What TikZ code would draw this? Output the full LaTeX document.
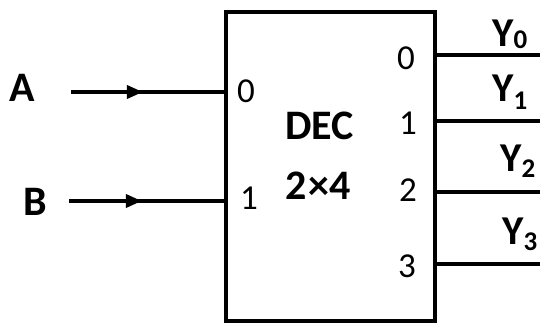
\documentclass[tikz,border=0pt]{standalone}
\usepackage{fontspec}
\setmainfont{Carlito}
\usetikzlibrary{arrows.meta,decorations.markings}
\begin{document}
\begin{tikzpicture}[x=1pt,y=1pt,
  wire/.style={line width=3.6pt},
  inwire/.style={wire,decoration={markings,mark=at position 0.47 with {\arrow{Triangle[length=16pt,width=13pt]}}},postaction={decorate}},
  lbl/.style={font=\fontsize{42}{46}\selectfont\bfseries,inner sep=0pt,anchor=base west},
  pin/.style={font=\fontsize{35}{40}\selectfont,inner sep=0pt,anchor=base west},
  ylbl/.style={font=\fontsize{41}{44}\selectfont\bfseries,inner sep=0pt,anchor=base west}]
\useasboundingbox (0,0) rectangle (540,329);
% decoder box
\node[draw,line width=3.6pt,minimum width=209pt,minimum height=309pt,inner sep=0pt,anchor=south west] (dec) at (224,6) {};
\node[lbl] (t1) at (285,189) {DEC};
\node[lbl] (t2) at (285,129) {2\kern2pt×4};
% inputs
\node[lbl] (A) at (9,227) {A};
\node[lbl] (B) at (23,113) {B};
\coordinate (a0) at (71,237);
\coordinate (b0) at (69,128);
\coordinate (i0) at (224,237);
\coordinate (i1) at (224,128);
\draw[inwire] (a0) -- (i0);
\draw[inwire] (b0) -- (i1);
\node[pin] (p0) at (237,226) {0};
\node[pin] (p1) at (240,119) {1};
% outputs
\node[pin] (q0) at (397,259) {0};
\node[pin] (q1) at (399,194) {1};
\node[pin] (q2) at (399,127) {2};
\node[pin] (q3) at (398,51) {3};
\coordinate (o0) at (433,274);
\coordinate (o1) at (433,208);
\coordinate (o2) at (433,137);
\coordinate (o3) at (433,65);
\coordinate (e0) at (540,274);
\coordinate (e1) at (540,208);
\coordinate (e2) at (540,137);
\coordinate (e3) at (540,65);
\draw[wire] (o0) -- (e0);
\draw[wire] (o1) -- (e1);
\draw[wire] (o2) -- (e2);
\draw[wire] (o3) -- (e3);
\node[ylbl] (y0) at (492,282) {Y\raisebox{-2pt}{\fontsize{27}{30}\selectfont 0}};
\node[ylbl] (y1) at (492,227) {Y\raisebox{-8pt}{\fontsize{27}{30}\selectfont 1}};
\node[ylbl] (y2) at (500,157) {Y\raisebox{-6pt}{\fontsize{27}{30}\selectfont 2}};
\node[ylbl] (y3) at (502,84) {Y\raisebox{-6pt}{\fontsize{27}{30}\selectfont 3}};
\end{tikzpicture}
\end{document}
